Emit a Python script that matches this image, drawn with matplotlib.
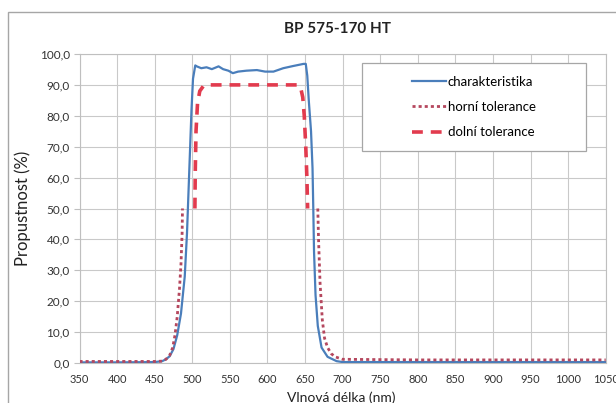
#!/usr/bin/python3
# coding: utf-8

import numpy as np
from matplotlib import pyplot as plt
from matplotlib.patches import Rectangle
from matplotlib.ticker import FuncFormatter

plt.rcParams['font.family'] = ['Lato', 'DejaVu Sans']

# Transmission data

wl_char = [350, 400, 450, 460, 465, 470, 475, 480, 485, 490, 493, 496, 499, 501, 504,
           506, 512, 519, 526, 535, 541, 548, 554, 561, 572, 586, 597, 608, 621, 634,
           648, 651, 653, 655, 658, 660, 661, 662, 664, 667, 672, 680, 692, 700, 800,
           900, 1000, 1050]
t_char = [0.2, 0.2, 0.3, 0.6, 1.2, 2.2, 4.5, 9.0, 16, 28, 42, 62, 82, 92, 96.3,
          96.0, 95.4, 95.7, 95.1, 96.0, 95.1, 94.6, 93.8, 94.3, 94.6, 94.8, 94.3, 94.3, 95.4, 96.1,
          96.8, 96.8, 93, 85, 75, 63, 50, 36, 22, 12, 5, 2, 0.6, 0.3, 0.3,
          0.3, 0.3, 0.3]

# upper tolerance is only defined outside the pass band (gap -> nan)
wl_upper = [350, 400, 450, 460, 465, 470, 474, 477, 480, 483, 485, 486.5, 487, np.nan,
            667, 668, 670, 673, 676, 680, 685, 690, 700, 800, 900, 1000, 1050]
t_upper = [0.5, 0.5, 0.5, 0.6, 1.2, 2.5, 5, 9, 15, 24, 32, 42, 50, np.nan,
           50, 40, 26, 14, 8, 5, 3, 2, 1.2, 1.0, 1.0, 1.0, 1.0]

wl_lower = [503.5, 504, 505, 507, 510, 515, 520, 580, 640, 644, 647, 649, 651, 652.5, 653.5]
t_lower = [50, 62, 75, 84, 88, 89.7, 90, 90, 90, 89.3, 86, 80, 70, 60, 50]

labels = ['charakteristika', 'horní tolerance', 'dolní tolerance']

fig = plt.figure(figsize=(6.16, 4.03), dpi=100)
ax = fig.add_axes([79.5 / 616, 1 - 363 / 403, 526.2 / 616, 309 / 403])

# outer chart border (Excel chart area)
fig.patches.append(Rectangle((8 / 616, -0.1), 1.2, 1 - 12 / 403 + 0.1,
                             transform=fig.transFigure, fill=False,
                             edgecolor='#a6a6a6', lw=1.0))

l_char, = ax.plot(wl_char, t_char, color='#4a7ebb', lw=1.6, zorder=3)
l_up, = ax.plot(wl_upper, t_upper, color='#b5475e', lw=2.0,
                linestyle=(0, (1.1, 1.1)), zorder=4)
l_low, = ax.plot(wl_lower, t_lower, color='#e23b4e', lw=2.6,
                 linestyle=(0, (3.0, 2.2)), zorder=4)

ax.set_xlim(350, 1050)
ax.set_ylim(0, 100)
ax.set_xticks(np.arange(350, 1051, 50))
ax.set_yticks(np.arange(0, 101, 10))
ax.yaxis.set_major_formatter(FuncFormatter(lambda v, p: ('%.1f' % v).replace('.', ',')))
ax.grid(True, color='#c9c9c9', lw=0.8)
ax.set_axisbelow(True)
for s in ax.spines.values():
    s.set_color('#bfbfbf')
    s.set_linewidth(0.8)
ax.tick_params(axis='y', length=4, color='#bfbfbf', labelsize=8.5, labelcolor='#333333', pad=3)
ax.tick_params(axis='x', length=0, labelsize=8, labelcolor='#333333', pad=8)

ax.set_title('BP 575-170 HT', fontsize=11, fontweight='bold', color='#222222',
             x=(337 - 79.5) / 526.2, y=1.0, pad=15)
ax.set_ylabel('Propustnost (%)', fontsize=12, color='#222222', labelpad=6)
fig.text(341 / 616, 1 - 398 / 403, 'Vlnová délka (nm)', fontsize=10, color='#222222',
         ha='center', va='center')

# legend box
bx0, bx1 = (362 - 79.5) / 526.2, (586 - 79.5) / 526.2
by0, by1 = (363 - 151) / 309, (363 - 63) / 309
ax.add_patch(Rectangle((bx0, by0), bx1 - bx0, by1 - by0, transform=ax.transAxes,
                       facecolor='white', edgecolor='#a6a6a6', lw=0.9, zorder=5))
leg = ax.legend([l_char, l_up, l_low], labels, loc='center',
                bbox_to_anchor=((bx0 + bx1) / 2, (by0 + by1) / 2),
                frameon=False, fontsize=9.5, handlelength=2.6, handletextpad=0.1,
                labelspacing=1.0)
leg.set_zorder(6)

plt.savefig('out.png', dpi=100)
